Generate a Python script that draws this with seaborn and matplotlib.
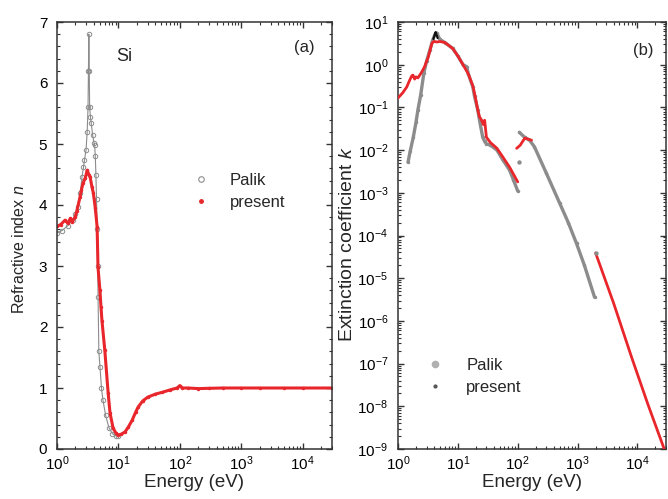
import numpy as np
import pandas as pd
import matplotlib
matplotlib.use("Agg")
import matplotlib.pyplot as plt
import seaborn as sns
from matplotlib.lines import Line2D
from matplotlib.ticker import FixedLocator, LogLocator, MultipleLocator, NullFormatter

# ---------------- data ----------------
# Panel (a): refractive index n
palik_n_E = [1.0, 1.2, 1.5, 1.8, 2.0, 2.2, 2.4, 2.55, 2.7, 2.8, 2.97, 3.1, 3.2, 3.25,
             3.3, 3.35, 3.4, 3.5, 3.6, 3.8, 4.0, 4.1, 4.2, 4.3, 4.4, 4.5, 4.6, 4.66,
             4.8, 5.0, 5.3, 5.6, 6.2, 7.0, 8.0, 9.0, 10.0]
palik_n = [3.54, 3.58, 3.66, 3.76, 3.85, 3.97, 4.2, 4.46, 4.62, 4.74, 4.9, 5.2, 5.6, 6.2,
           6.8, 6.2, 5.6, 5.45, 5.35, 5.15, 5.02, 4.98, 4.8, 4.5, 4.1, 3.6, 3.0, 2.5,
           1.6, 1.35, 1.0, 0.8, 0.55, 0.35, 0.25, 0.22, 0.22]

present_n_E = [1.0, 1.15, 1.35, 1.5, 1.65, 1.76, 1.97, 2.1, 2.37, 2.5, 2.66, 2.9, 3.1,
               3.3, 3.46, 3.7, 3.9, 4.2, 4.5, 4.65, 5.0, 5.2, 5.4, 6.0, 6.8, 7.3, 8.2,
               9.0, 9.8, 11.0, 12.8, 14.5, 16.7, 19.0, 21.0, 25.0, 30.0, 40.0, 52.0,
               70.0, 90.0, 100.0, 110.0, 137.0, 200.0, 300.0, 500.0, 1000.0, 2000.0,
               5000.0, 10000.0, 30000.0]
present_n = [3.65, 3.68, 3.75, 3.7, 3.78, 3.72, 3.8, 3.9, 4.13, 4.25, 4.36, 4.45, 4.57,
             4.5, 4.46, 4.3, 4.2, 3.95, 3.64, 2.98, 2.6, 2.33, 2.1, 1.62, 0.92, 0.59,
             0.34, 0.27, 0.23, 0.24, 0.28, 0.36, 0.47, 0.6, 0.69, 0.79, 0.85, 0.9, 0.93,
             0.97, 1.0, 1.04, 1.0, 1.0, 0.99, 0.995, 1.0, 1.0, 1.0, 1.0, 1.0, 1.0]

# Panel (b): extinction coefficient k
palik_k_E1 = [1.47, 1.6, 1.8, 2.0, 2.15, 2.4, 2.7, 3.0, 3.4, 3.8, 4.2, 4.46, 5.0, 6.1,
              8.2, 10.0, 12.2, 14.0, 15.0, 17.8, 19.0, 21.5, 23.0, 26.0, 28.0, 30.0,
              35.0, 45.0, 56.0, 73.0, 85.0, 100.0]
palik_k1 = [5.2e-3, 9.5e-3, 0.02, 0.045, 0.087, 0.2, 0.63, 1.2, 2.2, 3.8, 5.3, 5.5, 3.9,
            3.3, 2.4, 1.6, 1.0, 0.9, 0.6, 0.3, 0.18, 0.087, 0.05, 0.02, 0.016, 0.014,
            0.013, 0.01, 6.0e-3, 3.4e-3, 2.0e-3, 1.1e-3]
palik_k_E2 = [107.0, 130.0, 158.0, 190.0, 300.0, 500.0, 700.0, 960.0, 1300.0, 1920.0]
palik_k2 = [0.026, 0.02, 0.017, 0.012, 2.9e-3, 5.8e-4, 2.0e-4, 6.5e-5, 2.0e-5, 3.6e-6]
palik_k_stray_E = [104.0, 2000.0]
palik_k_stray = [5.2e-3, 3.9e-5]
palik_k_peak_E = [3.9, 4.1, 4.25, 4.4, 4.6]
palik_k_peak = [4.0, 5.0, 5.8, 5.0, 4.2]

present_k_E1 = [1.0, 1.2, 1.4, 1.55, 1.7, 1.78, 1.9, 2.0, 2.15, 2.4, 2.6, 2.8, 3.0, 3.2,
                3.5, 3.7, 4.0, 4.5, 5.0, 6.1, 8.2, 10.0, 12.2, 15.0, 17.8, 20.0, 21.5,
                23.0, 25.0, 26.5, 28.0, 30.0, 35.0, 45.0, 56.0, 73.0, 100.0]
present_k1 = [0.166, 0.22, 0.3, 0.42, 0.55, 0.57, 0.46, 0.52, 0.49, 0.62, 0.75, 0.92, 1.2,
              1.5, 2.4, 3.2, 3.5, 3.4, 3.5, 3.3, 2.4, 1.6, 1.0, 0.6, 0.32, 0.15, 0.087,
              0.06, 0.05, 0.04, 0.05, 0.02, 0.015, 0.011, 7.0e-3, 4.0e-3, 1.8e-3]
present_k_E2 = [96.0, 110.0, 131.0, 150.0, 170.0]
present_k2 = [0.011, 0.013, 0.019, 0.018, 0.017]
present_k_E3 = [2000.0, 4000.0, 8000.0, 15000.0, 28000.0]
present_k3 = [3.9e-5, 2.6e-6, 1.4e-7, 1.1e-8, 1.0e-9]

legend_labels = ["Palik", "present"]
energy_ticks = [1, 10, 100, 1000, 10000]
k_ticks = [1e-9, 1e-8, 1e-7, 1e-6, 1e-5, 1e-4, 1e-3, 1e-2, 1e-1, 1, 10]

# ---------------- style ----------------
sns.set_style("white")
plt.rcParams["font.family"] = ["Liberation Sans", "DejaVu Sans"]
plt.rcParams["mathtext.fontset"] = "custom"
plt.rcParams["mathtext.rm"] = "Liberation Sans"
plt.rcParams["mathtext.it"] = "Liberation Sans:italic"

RED = "#e8262b"
GRAY = "#8c8c8c"
DARK = "#333333"

fig = plt.figure(figsize=(6.68, 4.99), dpi=100)
ax1 = fig.add_axes([57 / 668, 50 / 499, 275 / 668, 427 / 499])
ax2 = fig.add_axes([398 / 668, 50 / 499, 268 / 668, 427 / 499])


def df(x, y):
    return pd.DataFrame({"E": x, "v": y})


# ---- panel (a)
sns.lineplot(data=df(palik_n_E, palik_n), x="E", y="v", ax=ax1, sort=False,
             estimator=None, color=GRAY, lw=0.8, marker="o", markersize=3.2,
             markerfacecolor="none", markeredgecolor=GRAY, markeredgewidth=0.7,
             legend=False)
sns.lineplot(data=df(present_n_E, present_n), x="E", y="v", ax=ax1, sort=False,
             estimator=None, color=RED, lw=2.2, marker="o", markersize=2.5,
             markeredgewidth=0, legend=False)

ax1.set_xscale("log")
ax1.set_xlim(1, 3e4)
ax1.set_ylim(0, 7)
ax1.yaxis.set_major_locator(MultipleLocator(1))
ax1.yaxis.set_minor_locator(MultipleLocator(0.2))
ax1.set_xlabel("Energy (eV)", fontsize=13.5)
ax1.set_ylabel("Refractive index $n$", fontsize=11.5)
ax1.xaxis.set_label_coords(0.5, -0.058)
ax1.yaxis.set_label_coords(-0.108, 0.468)
ax1.text(0.245, 0.92, "Si", transform=ax1.transAxes, fontsize=13,
         ha="center", va="center")
ax1.text(0.9, 0.94, "(a)", transform=ax1.transAxes, fontsize=12,
         ha="center", va="center")

h_a = [Line2D([], [], ls="none", marker="o", markersize=4, markerfacecolor="none",
              markeredgecolor=GRAY, markeredgewidth=0.8),
       Line2D([], [], ls="none", marker="o", markersize=2.5, color=RED)]
ax1.legend(h_a, legend_labels, loc="center left", bbox_to_anchor=(0.44, 0.603),
           frameon=False, fontsize=12, handlelength=1.0, handletextpad=1.2,
           labelspacing=0.45)

# ---- panel (b)
for ex, ey in [(palik_k_E1, palik_k1), (palik_k_E2, palik_k2)]:
    sns.lineplot(data=df(ex, ey), x="E", y="v", ax=ax2, sort=False, estimator=None,
                 color=GRAY, lw=2.4, marker="o", markersize=2.5, markeredgewidth=0,
                 legend=False, zorder=2)
for ex, ey in [(present_k_E1, present_k1), (present_k_E2, present_k2),
               (present_k_E3, present_k3)]:
    sns.lineplot(data=df(ex, ey), x="E", y="v", ax=ax2, sort=False, estimator=None,
                 color=RED, lw=2.0, legend=False, zorder=3)
sns.lineplot(data=df(palik_k_peak_E, palik_k_peak), x="E", y="v", ax=ax2, sort=False,
             estimator=None, color="#111111", lw=1.6, legend=False, zorder=4)
sns.scatterplot(data=df(palik_k_stray_E, palik_k_stray), x="E", y="v", ax=ax2,
                color=GRAY, s=10, linewidth=0, legend=False, zorder=4)

ax2.set_xscale("log")
ax2.set_yscale("log")
ax2.set_xlim(1, 3e4)
ax2.set_ylim(1e-9, 10)
ax2.yaxis.set_major_locator(FixedLocator(k_ticks))
ax2.yaxis.set_minor_locator(LogLocator(base=10, subs=np.arange(2, 10), numticks=20))
ax2.yaxis.set_minor_formatter(NullFormatter())
ax2.set_xlabel("Energy (eV)", fontsize=13.5)
ax2.set_ylabel("Extinction coefficient $k$", fontsize=14)
ax2.xaxis.set_label_coords(0.5, -0.058)
ax2.yaxis.set_label_coords(-0.158, 0.48)
ax2.text(0.914, 0.934, "(b)", transform=ax2.transAxes, fontsize=12,
         ha="center", va="center")

h_b = [Line2D([], [], ls="none", marker="o", markersize=4.5, color="#b0b0b0"),
       Line2D([], [], ls="none", marker="o", markersize=2, color="#555555")]
ax2.legend(h_b, legend_labels, loc="center left", bbox_to_anchor=(0.05, 0.17),
           frameon=False, fontsize=12, handlelength=1.0, handletextpad=1.4,
           labelspacing=0.45)

for ax in (ax1, ax2):
    ax.xaxis.set_major_locator(FixedLocator(energy_ticks))
    ax.xaxis.set_minor_locator(LogLocator(base=10, subs=np.arange(2, 10), numticks=10))
    ax.xaxis.set_minor_formatter(NullFormatter())
    ax.tick_params(which="both", direction="in", bottom=True, left=True, top=True,
                   right=True, colors=DARK, labelcolor="black")
    ax.tick_params(which="major", length=4.5, width=1.0, labelsize=11)
    ax.tick_params(which="minor", length=2.5, width=0.8)
    ax.tick_params(axis="x", which="major", pad=4)
    ax.tick_params(axis="y", which="major", pad=7)
    for s in ax.spines.values():
        s.set_color(DARK)
        s.set_linewidth(1.1)

fig.savefig("out.png", dpi=100)
